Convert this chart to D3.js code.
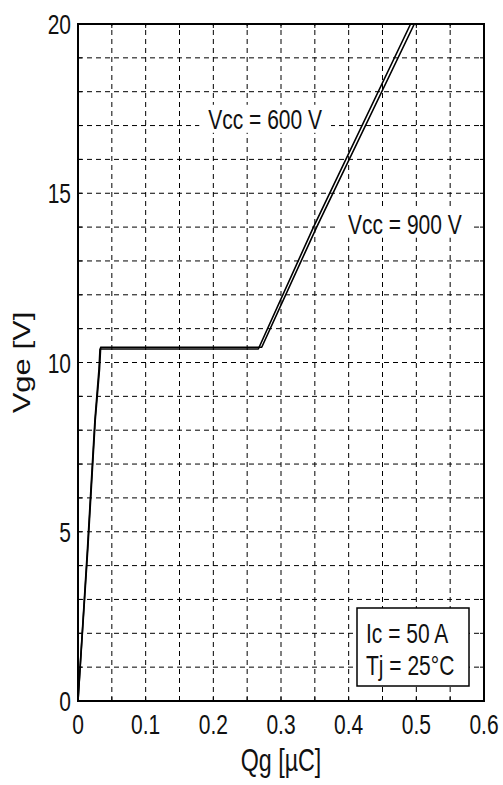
<!DOCTYPE html>
<meta charset="utf-8">
<style>
body{ margin:0; background:#fff; }
text{ font-family: "Liberation Sans", Arial, sans-serif; fill:#111; }
</style>
<body>
<div id="chart"></div>
<script src="https://d3js.org/d3.v7.min.js"></script>
<script>
// gate charge curves, Vge vs Qg
var qg600 = [0, 0.014, 0.025, 0.031, 0.0325, 0.2665, 0.348, 0.4915];
var vge600 = [0, 4.5, 8.3, 9.8, 10.40, 10.40, 14.0, 20];
var qg900 = [0, 0.0145, 0.0255, 0.0318, 0.0335, 0.2715, 0.3527, 0.497];
var vge900 = [0, 4.5, 8.3, 9.8, 10.45, 10.45, 14.0, 20];
var xTicks = [0, 0.1, 0.2, 0.3, 0.4, 0.5, 0.6];
var yTicks = [0, 5, 10, 15, 20];
var xGrid = d3.range(1, 12).map(function(i){ return i * 0.05; });
var yGrid = d3.range(1, 20);
var legendLines = ["Ic = 50 A", "Tj = 25°C"];

var W = 503, H = 785;
// note: "top" is taken by window.top, so plot edges get a prefix
var pLeft = 78, pRight = 484, pTop = 24, pBottom = 701;
var sx = 0.75; // squeezed text look of the scan

var x = d3.scaleLinear().domain([0, 0.6]).range([pLeft, pRight]);
var y = d3.scaleLinear().domain([0, 20]).range([pBottom, pTop]);

var svg = d3.select("#chart").append("svg").attr("width", W).attr("height", H);

function label(g, px, py, str, size, anchor){
	var t = g.append("g").attr("transform", "translate(" + px + "," + py + ")")
		.append("text")
		.attr("transform", "scale(" + sx + ",1)")
		.attr("text-anchor", anchor || "start")
		.style("font-size", size + "px")
		.text(str);
	return t;
}

// grid
var grid = svg.append("g").attr("stroke", "#000").attr("stroke-width", 1).attr("stroke-dasharray", "5,4");
grid.selectAll(".vg").data(xGrid).enter().append("line")
	.attr("x1", function(d){ return x(d); }).attr("x2", function(d){ return x(d); })
	.attr("y1", pBottom).attr("y2", pTop);
grid.selectAll(".hg").data(yGrid).enter().append("line")
	.attr("x1", pLeft).attr("x2", pRight)
	.attr("y1", function(d){ return y(d); }).attr("y2", function(d){ return y(d); });

// inward ticks
var ticks = svg.append("g").attr("stroke", "#000").attr("stroke-width", 1);
xGrid.forEach(function(d){
	ticks.append("line").attr("x1", x(d)).attr("x2", x(d)).attr("y1", pBottom).attr("y2", pBottom - 4);
	ticks.append("line").attr("x1", x(d)).attr("x2", x(d)).attr("y1", pTop).attr("y2", pTop + 4);
});
yGrid.forEach(function(d){
	ticks.append("line").attr("x1", pLeft).attr("x2", pLeft + 4).attr("y1", y(d)).attr("y2", y(d));
	ticks.append("line").attr("x1", pRight).attr("x2", pRight - 4).attr("y1", y(d)).attr("y2", y(d));
});

// curve labels with white backing
var notes = [
	{text: "Vcc = 600 V", q: 0.3606, v: 17.2, anchor: "end"},
	{text: "Vcc = 900 V", q: 0.399, v: 14.1, anchor: "start"}
];
notes.forEach(function(n){
	var g = svg.append("g");
	var rect = g.append("rect").attr("fill", "#fff");
	var t = label(g, x(n.q), y(n.v) + 10, n.text, 28, n.anchor);
	var w = t.node().getComputedTextLength() * sx;
	var x0 = n.anchor == "end" ? x(n.q) - w : x(n.q);
	rect.attr("x", x0 - 9).attr("y", y(n.v) - 14).attr("width", w + 18).attr("height", 28);
});

// curves
var line = d3.line().x(function(d){ return x(d[0]); }).y(function(d){ return y(d[1]); });
[[qg600, vge600], [qg900, vge900]].forEach(function(s){
	svg.append("path")
		.datum(d3.zip(s[0], s[1]))
		.attr("d", line)
		.attr("fill", "none")
		.attr("stroke", "#000")
		.attr("stroke-width", 1.6)
		.attr("stroke-linejoin", "round");
});

// legend box
svg.append("rect").attr("x", 357).attr("y", 608).attr("width", 112).attr("height", 78)
	.attr("fill", "#fff").attr("stroke", "#000").attr("stroke-width", 1.5);
legendLines.forEach(function(s, i){
	label(svg, 366, 643 + i * 32, s, 28);
});

// frame
svg.append("rect").attr("x", pLeft).attr("y", pTop).attr("width", pRight - pLeft).attr("height", pBottom - pTop)
	.attr("fill", "none").attr("stroke", "#000").attr("stroke-width", 2);

// tick labels
xTicks.forEach(function(d){
	label(svg, x(d), 734, d3.format("")(d), 28, "middle");
});
yTicks.forEach(function(d){
	label(svg, 71, y(d) + 10, d, 28, "end");
});

// axis titles
label(svg, (pLeft + pRight) / 2, 771, "Qg [µC]", 31, "middle");
svg.append("g").attr("transform", "translate(22," + ((pTop + pBottom) / 2) + ") rotate(-90)")
	.append("text")
	.attr("transform", "scale(1," + sx + ")")
	.attr("text-anchor", "middle")
	.attr("y", 10)
	.style("font-size", "31px")
	.text("Vge [V]");
</script>
</body>
